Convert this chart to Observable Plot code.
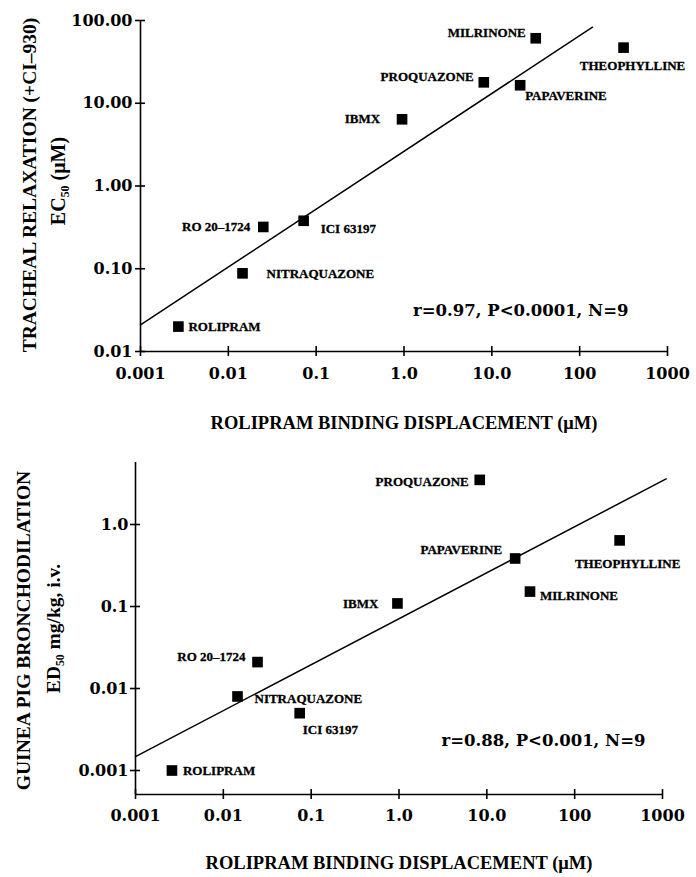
<!DOCTYPE html>
<html>
<head>
<meta charset="utf-8">
<script src="https://cdn.jsdelivr.net/npm/d3@7"></script>
<script src="https://cdn.jsdelivr.net/npm/@observablehq/plot@0.6"></script>
<style>
  html, body { margin: 0; padding: 0; background: #fff; }
  #chart { width: 696px; }
  #chart svg { display: block; }
</style>
</head>
<body>
<div id="chart"></div>
<script>
// ---------- data ----------
const compounds = ["ROLIPRAM", "NITRAQUAZONE", "RO 20–1724", "ICI 63197", "IBMX", "PROQUAZONE", "PAPAVERINE", "MILRINONE", "THEOPHYLLINE"];
// top panel
const bindingTop    = [0.0027, 0.0145, 0.025, 0.072, 0.95, 8.1, 21, 31.6, 316];
const trachealEC50  = [0.020, 0.088, 0.32, 0.38, 6.4, 17.9, 16.5, 61, 47];
const fitTopX = [0.001, 140];
const fitTopY = [0.021, 83];
// bottom panel
const bindingBottom = [0.0026, 0.0145, 0.0245, 0.074, 0.96, 8.3, 21, 31, 325];
const bronchoED50   = [0.001, 0.008, 0.021, 0.005, 0.109, 3.5, 0.385, 0.152, 0.64];
const fitBotX = [0.001, 1100];
const fitBotY = [0.00148, 3.6];
// ticks
const xTicks = [0.001, 0.01, 0.1, 1, 10, 100, 1000];
const xTickLabels = ["0.001", "0.01", "0.1", "1.0", "10.0", "100", "1000"];
const yTicksTop = [0.01, 0.1, 1, 10, 100];
const yTickLabelsTop = ["0.01", "0.10", "1.00", "10.00", "100.00"];
const yTicksBot = [0.001, 0.01, 0.1, 1];
const yTickLabelsBot = ["0.001", "0.01", "0.1", "1.0"];
// texts
const xTitle = "ROLIPRAM BINDING DISPLACEMENT (μM)";
const yTitleTop = ["TRACHEAL RELAXATION (+CI–930)", "EC₅₀ (μM)"];
const yTitleBot = ["GUINEA PIG BRONCHODILATION", "ED₅₀ mg/kg, i.v."];
const statTop = "r=0.97, P<0.0001, N=9";
const statBot = "r=0.88, P<0.001, N=9";

// ---------- styling / placement (not data) ----------
const labelPlaceTop = [[10,0,"start"],[24,0,"start"],[-13,0,"end"],[17,8,"start"],[-22,0,"end"],[-10,-5,"end"],[5,11,"start"],[-10,-5,"end"],[9,18,"middle"]];
const labelPlaceBot = [[11,0,"start"],[17,2,"start"],[-12,-5,"end"],[3,17,"start"],[-19,0,"end"],[-11,2,"end"],[-13,-9,"end"],[10,4,"start"],[8,23,"middle"]];
const serif = "'DejaVu Serif', serif";
const tSerif = "'Liberation Serif', 'Times New Roman', serif";

function panel(opts) {
  const {xs, ys, fitX, fitY, yTicks, yLabels, yDomain, height, mTop, mBottom, mLeft, mRight, place, yTitle, stat, statDx, statDy, xTitleDy, xLabelPad, yLabelPad} = opts;
  const pts = compounds.map((name, i) => ({name, x: xs[i], y: ys[i]}));
  const fit = fitX.map((x, i) => ({x, y: fitY[i]}));
  const labelMarks = pts.map((d, i) => Plot.text([d], {
    x: "x", y: "y", text: "name",
    dx: place[i][0], dy: place[i][1], textAnchor: place[i][2],
    fontFamily: tSerif, fontSize: 13, fontWeight: "bold", fill: "#000", stroke: "#000", strokeWidth: 0.3
  }));
  return Plot.plot({
    width: 696, height,
    marginTop: mTop, marginBottom: mBottom, marginLeft: mLeft, marginRight: mRight,
    style: {fontFamily: serif, fontWeight: "bold", fontSize: "16px", color: "#000", background: "#fff", overflow: "visible"},
    x: {type: "log", domain: [0.001, 1000]},
    y: {type: "log", domain: yDomain},
    marks: [
      Plot.ruleY([yDomain[0]], {stroke: "#000", strokeWidth: 1.6}),
      Plot.ruleX([0.001], {stroke: "#000", strokeWidth: 1.6}),
      Plot.axisX({ticks: xTicks, tickFormat: (d) => xTickLabels[xTicks.indexOf(d)], tickSize: 5, tickPadding: xLabelPad, strokeWidth: 1.6, label: null, fontSize: 16, fontFamily: serif}),
      Plot.axisX({ticks: xTicks, tickFormat: () => "", tickSize: 5, dy: -5, strokeWidth: 1.6, label: null}),
      Plot.axisY({ticks: yTicks, tickFormat: (d) => yLabels[yTicks.indexOf(d)], tickSize: 5, tickPadding: yLabelPad, strokeWidth: 1.6, label: null, fontSize: 16, fontFamily: serif}),
      Plot.axisY({ticks: yTicks, tickFormat: () => "", tickSize: 5, dx: 5, strokeWidth: 1.6, label: null}),
      Plot.line(fit, {x: "x", y: "y", stroke: "#000", strokeWidth: 1.5}),
      Plot.dot(pts, {x: "x", y: "y", symbol: "square", r: 6, fill: "#000", stroke: "none"}),
      ...labelMarks,
      Plot.text([stat], {frameAnchor: "bottom-right", dx: statDx, dy: statDy, lineAnchor: "middle", textAnchor: "end", fontFamily: serif, fontSize: 16.5, fontWeight: "bold", fill: "#000"}),
      Plot.text([xTitle], {frameAnchor: "bottom", dy: xTitleDy, lineAnchor: "middle", textAnchor: "middle", fontFamily: tSerif, fontSize: 18.5, fontWeight: "bold", fill: "#000"}),
      Plot.text([yTitle[0]], {frameAnchor: "left", dx: opts.yT1[0], dy: opts.yT1[1], rotate: -90, lineAnchor: "middle", textAnchor: "middle", fontFamily: tSerif, fontSize: opts.yT1[2], fontWeight: "bold", fill: "#000"}),
      Plot.text([yTitle[1]], {frameAnchor: "left", dx: opts.yT2[0], dy: opts.yT2[1], rotate: -90, lineAnchor: "middle", textAnchor: "middle", fontFamily: tSerif, fontSize: opts.yT2[2], fontWeight: "bold", fill: "#000"})
    ]
  });
}

const topPanel = panel({
  xs: bindingTop, ys: trachealEC50, fitX: fitTopX, fitY: fitTopY,
  yTicks: yTicksTop, yLabels: yTickLabelsTop, yDomain: [0.01, 100],
  height: 440, mTop: 20, mBottom: 89, mLeft: 140, mRight: 29,
  place: labelPlaceTop, yTitle: yTitleTop, stat: statTop, statDx: -39, statDy: -41,
  xTitleDy: 72, xLabelPad: 11, yLabelPad: 3, yT1: [-111, -1, 19.5], yT2: [-82, -5, 20]
});
const bottomPanel = panel({
  xs: bindingBottom, ys: bronchoED50, fitX: fitBotX, fitY: fitBotY,
  yTicks: yTicksBot, yLabels: yTickLabelsBot, yDomain: [0.00051, 5.7],
  height: 437, mTop: 22, mBottom: 83, mLeft: 135, mRight: 34,
  place: labelPlaceBot, yTitle: yTitleBot, stat: statBot, statDx: -17, statDy: -54,
  xTitleDy: 69, xLabelPad: 10, yLabelPad: 2, yT1: [-112, 2, 19.5], yT2: [-82, 0, 19.5]
});
document.getElementById("chart").append(topPanel, bottomPanel);
</script>
</body>
</html>
